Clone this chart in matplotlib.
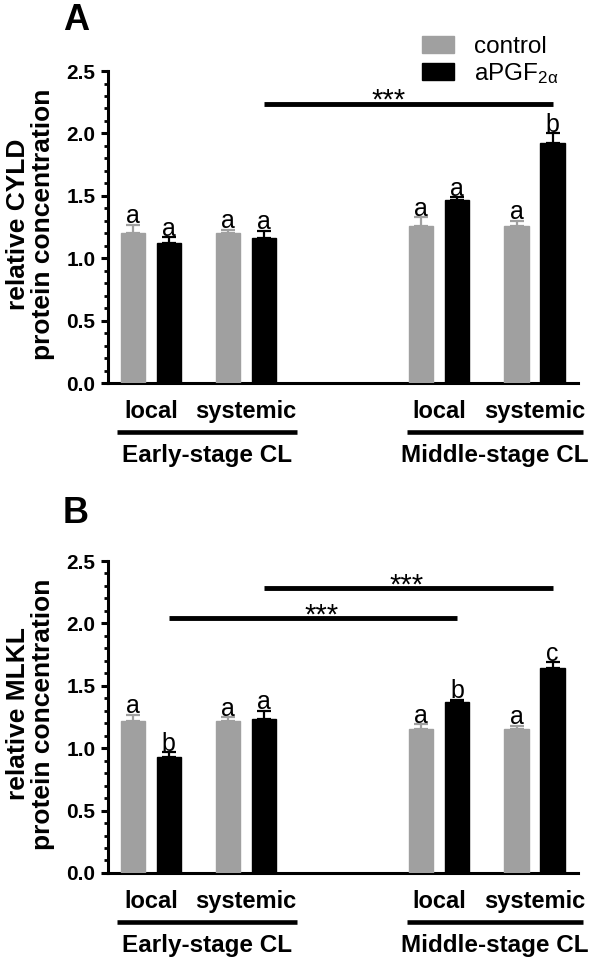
"""
Bar charts of relative CYLD and MLKL protein concentration
in early- and middle-stage CL (control vs aPGF2a).
"""

import matplotlib.pyplot as plt
from matplotlib.ticker import MultipleLocator, FormatStrFormatter

plt.rcParams['font.family'] = ['Liberation Sans', 'DejaVu Sans']
plt.rcParams['mathtext.fontset'] = 'custom'
plt.rcParams['mathtext.rm'] = 'Liberation Sans'
plt.rcParams['mathtext.it'] = 'Liberation Sans:italic'
plt.rcParams['mathtext.bf'] = 'Liberation Sans:bold'

# groups: early local, early systemic, middle local, middle systemic
categories = ['local', 'systemic', 'local', 'systemic']
stages = ['Early-stage CL', 'Middle-stage CL']

# panel A: CYLD
cyld_control = [1.20, 1.20, 1.26, 1.26]
cyld_control_err = [0.07, 0.03, 0.07, 0.04]
cyld_apgf = [1.12, 1.16, 1.47, 1.92]
cyld_apgf_err = [0.05, 0.06, 0.02, 0.08]
cyld_letters_control = ['a', 'a', 'a', 'a']
cyld_letters_apgf = ['a', 'a', 'a', 'b']
cyld_sig = [(3.65, 11.65, 2.24, 7.1)]      # x1, x2, y, star x

# panel B: MLKL
mlkl_control = [1.22, 1.22, 1.15, 1.15]
mlkl_control_err = [0.05, 0.03, 0.04, 0.03]
mlkl_apgf = [0.93, 1.23, 1.37, 1.64]
mlkl_apgf_err = [0.04, 0.07, 0.02, 0.05]
mlkl_letters_control = ['a', 'a', 'a', 'a']
mlkl_letters_apgf = ['b', 'a', 'b', 'c']
mlkl_sig = [(3.65, 11.65, 2.28, 7.6), (1.0, 9.0, 2.04, 5.25)]

# bar positions (control, aPGF per category)
pos_control = [0.0, 2.65, 8.0, 10.65]
pos_apgf = [1.0, 3.65, 9.0, 11.65]
stage_spans = [(-0.45, 4.55), (7.6, 12.5)]

GREY = '#a0a0a0'
BAR_W = 0.67


def draw_panel(ax, ctrl, ctrl_err, apgf, apgf_err, let_c, let_a, sig, ylabel):
    b1 = ax.bar(pos_control, ctrl, width=BAR_W, color=GREY, edgecolor=GREY,
                label='control', zorder=3)
    b2 = ax.bar(pos_apgf, apgf, width=BAR_W, color='black', edgecolor='black',
                label=r'aPGF$_{\mathregular{2α}}$', zorder=3)
    ax.errorbar(pos_control, ctrl, yerr=[[0] * 4, ctrl_err], fmt='none',
                ecolor=GREY, elinewidth=1.6, capsize=5, capthick=1.6, zorder=2)
    ax.errorbar(pos_apgf, apgf, yerr=[[0] * 4, apgf_err], fmt='none',
                ecolor='black', elinewidth=1.6, capsize=5, capthick=1.6, zorder=2)

    # significance letters
    for x, v, e, t in zip(pos_control + pos_apgf, ctrl + apgf,
                          ctrl_err + apgf_err, let_c + let_a):
        ax.annotate(t, (x, v + e), xytext=(0, 1), textcoords='offset points',
                    ha='center', va='baseline', fontsize=18)

    # significance bars
    for x1, x2, y, xs in sig:
        ax.plot([x1, x2], [y, y], color='black', lw=3.5, solid_capstyle='butt',
                clip_on=False)
        ax.annotate('***', (xs, y), xytext=(0, -3.5), textcoords='offset points',
                    ha='center', va='baseline', fontsize=21)

    ax.set_xlim(-0.69, 12.36)
    ax.set_ylim(0, 2.5)
    ax.spines['top'].set_visible(False)
    ax.spines['right'].set_visible(False)
    ax.spines['left'].set_linewidth(2.2)
    ax.spines['bottom'].set_linewidth(2.2)
    ax.yaxis.set_major_locator(MultipleLocator(0.5))
    ax.yaxis.set_minor_locator(MultipleLocator(0.1))
    ax.yaxis.set_major_formatter(FormatStrFormatter('%.1f'))
    ax.tick_params(axis='y', which='major', length=5, width=2.2,
                   labelsize=15, pad=4)
    ax.tick_params(axis='y', which='minor', length=3, width=2.0)
    for lab in ax.get_yticklabels():
        lab.set_fontweight('bold')
    ax.set_xticks([])

    # category and stage labels under the axis
    tr = ax.get_xaxis_transform()
    for i, cat in enumerate(categories):
        xc = (pos_control[i] + pos_apgf[i]) / 2
        ax.text(xc, -0.09, cat, transform=tr, ha='center', va='center',
                fontsize=17, fontweight='bold')
    for (x1, x2), st in zip(stage_spans, stages):
        ax.plot([x1, x2], [-0.158, -0.158], transform=tr, color='black',
                lw=3.3, clip_on=False, solid_capstyle='butt')
        ax.text((x1 + x2) / 2, -0.233, st, transform=tr, ha='center',
                va='center', fontsize=17.5, fontweight='bold')

    ax.text(-0.164, 0.51, ylabel, transform=ax.transAxes, rotation=90,
            ha='center', va='center', fontsize=19, fontweight='bold',
            linespacing=1.05, multialignment='center')
    return b1, b2


fig = plt.figure(figsize=(5.96, 9.59), dpi=100)
ax_a = fig.add_axes([0.181, 0.6006, 0.789, 0.3253])
ax_b = fig.add_axes([0.181, 0.0897, 0.789, 0.3253])

h1, h2 = draw_panel(ax_a, cyld_control, cyld_control_err, cyld_apgf,
                    cyld_apgf_err, cyld_letters_control, cyld_letters_apgf,
                    cyld_sig, 'relative CYLD\nprotein concentration')
draw_panel(ax_b, mlkl_control, mlkl_control_err, mlkl_apgf, mlkl_apgf_err,
           mlkl_letters_control, mlkl_letters_apgf, mlkl_sig,
           'relative MLKL\nprotein concentration')

ax_a.legend(handles=[h1, h2], loc='upper left', bbox_to_anchor=(0.708, 0.962),
            bbox_transform=fig.transFigure, frameon=False, fontsize=17.5,
            handlelength=1.33, handleheight=0.7, handletextpad=0.8,
            labelspacing=0.1, borderpad=0, borderaxespad=0)

fig.text(0.1057, 0.9687, 'A', fontsize=26, fontweight='bold', ha='left',
         va='baseline')
fig.text(0.1057, 0.4546, 'B', fontsize=26, fontweight='bold', ha='left',
         va='baseline')

fig.savefig('out.png', dpi=100)
plt.close(fig)
